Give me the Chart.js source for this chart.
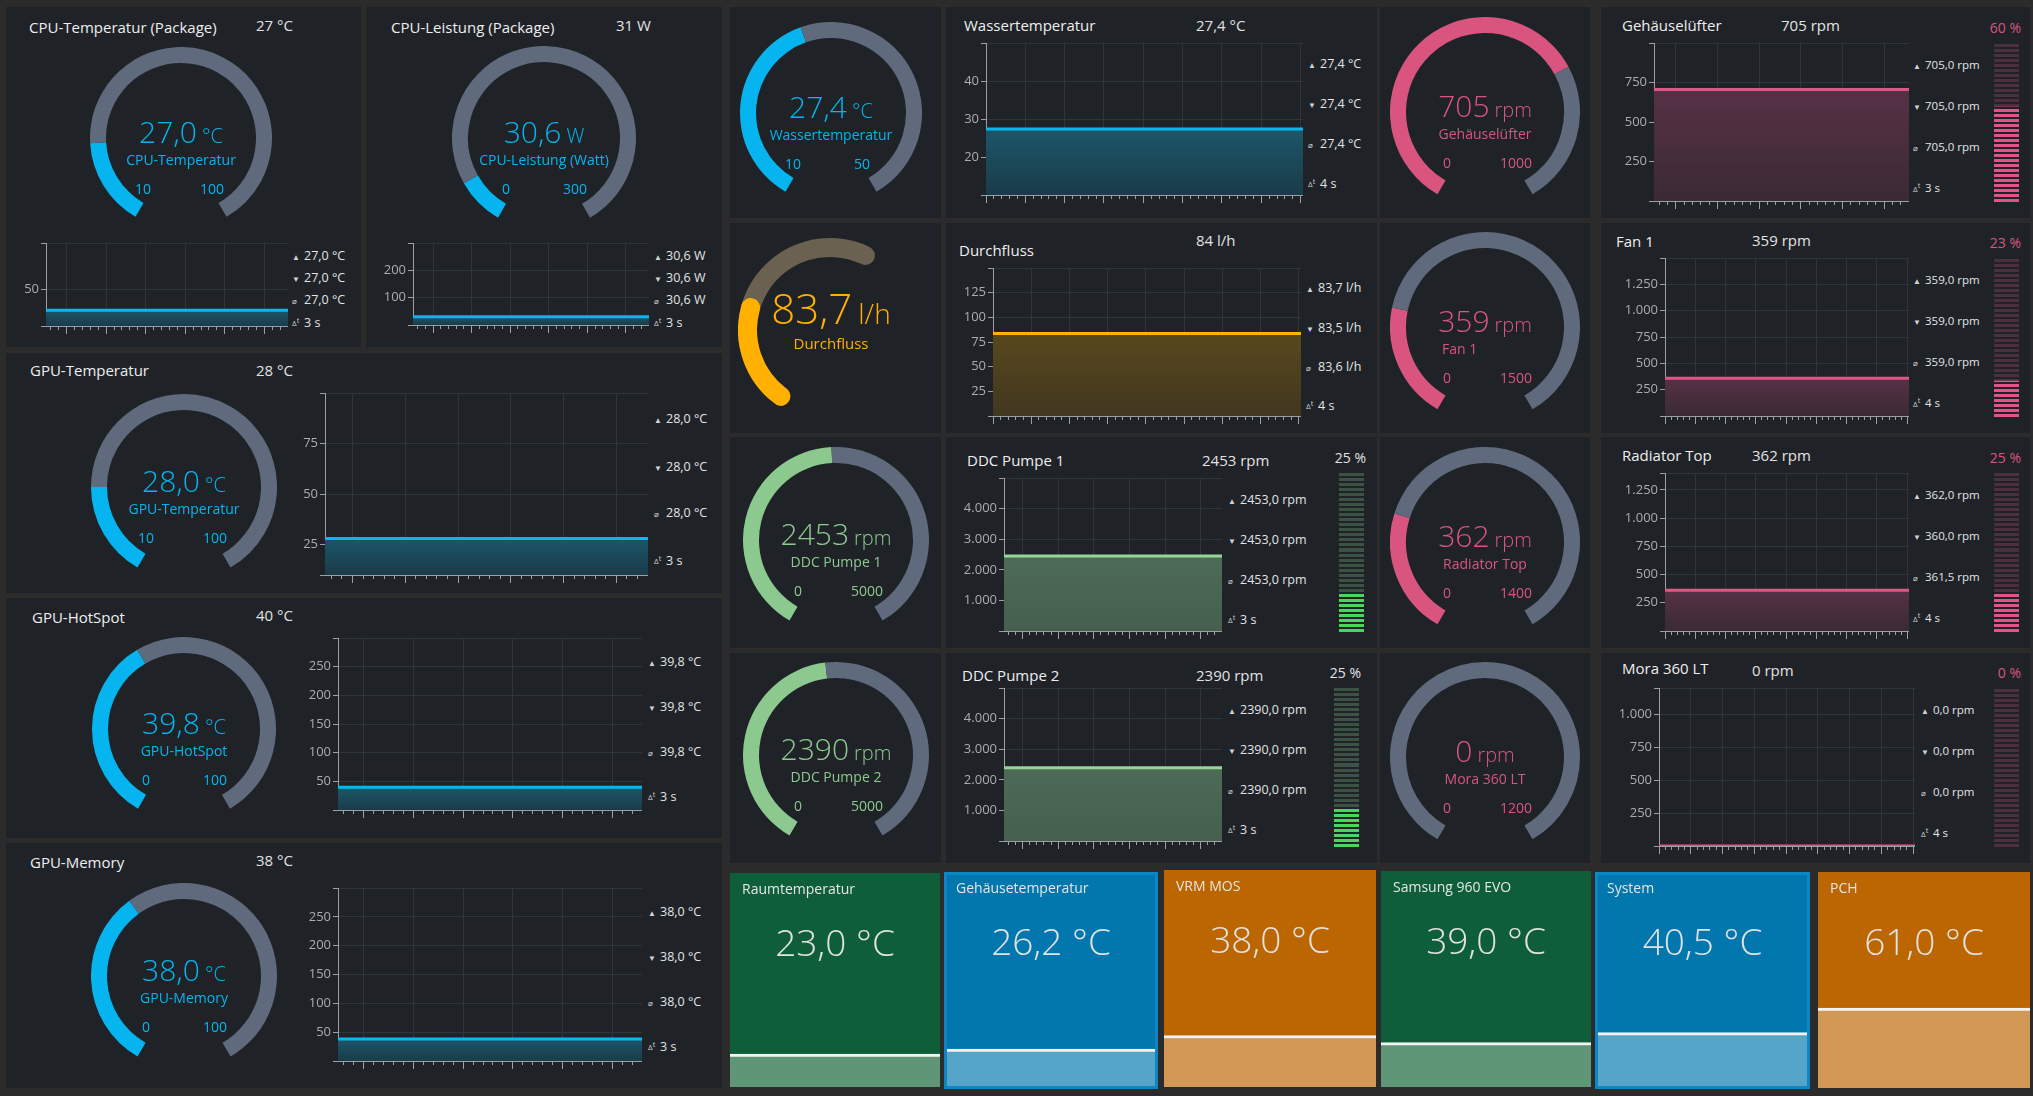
<!DOCTYPE html>
<html lang="de">
<head>
<meta charset="utf-8">
<title>Sensor-Dashboard</title>
<script src="https://cdn.jsdelivr.net/npm/chart.js@4.4.1/dist/chart.umd.min.js"></script>
<style>
  html, body { margin: 0; padding: 0; }
  body {
    background: #2b2b2b; width: 2033px; height: 1096px; position: relative; overflow: hidden;
    font-family: 'Segoe UI', 'Open Sans', sans-serif; color: #e4e4e4;
  }
  .p { position: absolute; background: #1f2328; }
  .t { position: absolute; white-space: nowrap; line-height: 1; }
  canvas { position: absolute; }
</style>
</head>
<body>
<script>
// Sensoren in fester Reihenfolge
const titles = ['CPU-Temperatur (Package)', 'CPU-Leistung (Package)', 'GPU-Temperatur', 'GPU-HotSpot', 'GPU-Memory',
  'Wassertemperatur', 'Durchfluss', 'DDC Pumpe 1', 'DDC Pumpe 2', 'Gehäuselüfter', 'Fan 1', 'Radiator Top', 'Mora 360 LT'];
const headerValues = ['27 °C', '31 W', '28 °C', '40 °C', '38 °C', '27,4 °C', '84 l/h', '2453 rpm', '2390 rpm',
  '705 rpm', '359 rpm', '362 rpm', '0 rpm'];
const gaugeLabels = ['CPU-Temperatur', 'CPU-Leistung (Watt)', 'GPU-Temperatur', 'GPU-HotSpot', 'GPU-Memory',
  'Wassertemperatur', 'Durchfluss', 'DDC Pumpe 1', 'DDC Pumpe 2', 'Gehäuselüfter', 'Fan 1', 'Radiator Top', 'Mora 360 LT'];
const units = ['°C', 'W', '°C', '°C', '°C', '°C', 'l/h', 'rpm', 'rpm', 'rpm', 'rpm', 'rpm', 'rpm'];
const gaugeValues = [27.0, 30.6, 28.0, 39.8, 38.0, 27.4, 83.7, 2453, 2390, 705, 359, 362, 0];
const gaugeDecimals = [1, 1, 1, 1, 1, 1, 1, 0, 0, 0, 0, 0, 0];
const gaugeMin = [10, 0, 10, 0, 0, 10, 0, 0, 0, 0, 0, 0, 0];
const gaugeMax = [100, 300, 100, 100, 100, 50, 185, 5000, 5000, 1000, 1500, 1400, 1200];

// Verlaufsdiagramme (Zeitachse in Sekunden)
const timesA = [-2.6, 2.5, 7.5, 12.5, 17.5, 22.5, 28];        // Δt 3 s
const timesB = [-5, 0, 5, 10, 15, 20, 25, 30, 35.3];          // Δt 4 s
const histCpuTemp = [27.0, 27.0, 27.0, 27.0, 27.0, 27.0, 27.0];
const histCpuPower = [30.6, 30.6, 30.6, 30.6, 30.6, 30.6, 30.6];
const histGpuTemp = [28.0, 28.0, 28.0, 28.0, 28.0, 28.0, 28.0];
const histGpuHot = [39.8, 39.8, 39.8, 39.8, 39.8, 39.8, 39.8];
const histGpuMem = [38.0, 38.0, 38.0, 38.0, 38.0, 38.0, 38.0];
const histWater = [27.4, 27.4, 27.4, 27.4, 27.4, 27.4, 27.4, 27.4, 27.4];
const histFlow = [83.5, 83.5, 83.7, 83.7, 83.7, 83.7, 83.7, 83.7, 83.7];
const histPump1 = [2453, 2453, 2453, 2453, 2453, 2453, 2453];
const histPump2 = [2390, 2390, 2390, 2390, 2390, 2390, 2390];
const histCaseFan = [705, 705, 705, 705, 705, 705, 705];
const histFan1 = [359, 359, 359, 359, 359, 359, 359, 359, 359];
const histRadTop = [360, 362, 362, 362, 362, 362, 362, 362, 362];
const histMora = [0, 0, 0, 0, 0, 0, 0, 0, 0];

const chartMin = [10, 0, 10, 0, 0, 10, 0, 0, 0, 0, 0, 0, 0];
const chartMax = [100, 300, 100, 300, 300, 50, 150, 5000, 5000, 1000, 1500, 1400, 1200];
const chartStep = [50, 100, 25, 50, 50, 10, 25, 1000, 1000, 250, 250, 250, 250];

const statMax = [27.0, 30.6, 28.0, 39.8, 38.0, 27.4, 83.7, 2453, 2390, 705, 359, 362, 0];
const statMin = [27.0, 30.6, 28.0, 39.8, 38.0, 27.4, 83.5, 2453, 2390, 705, 359, 360, 0];
const statAvg = [27.0, 30.6, 28.0, 39.8, 38.0, 27.4, 83.6, 2453, 2390, 705, 359, 361.5, 0];
const statDt = [3, 3, 3, 3, 3, 4, 4, 3, 3, 3, 4, 4, 4];

// Pumpen/Lüfter: Ansteuerung in %
const levelSensors = [7, 8, 9, 10, 11, 12];
const levelPct = [25, 25, 60, 23, 25, 0];

// Kacheln unten
const tileNames = ['Raumtemperatur', 'Gehäusetemperatur', 'VRM MOS', 'Samsung 960 EVO', 'System', 'PCH'];
const tileValues = [23.0, 26.2, 38.0, 39.0, 40.5, 61.0];
const tileMax = [150, 150, 160, 190, 160, 165];

const hist = [histCpuTemp, histCpuPower, histGpuTemp, histGpuHot, histGpuMem, histWater, histFlow,
  histPump1, histPump2, histCaseFan, histFan1, histRadTop, histMora];

// ---------- Aussehen ----------
const PANEL = '#1f2328', GRID = '#2f353c', AXIS = '#9ba0a5', TICK = '#a9adb1';
const themes = {
  cyan:  { main: '#06b5ef', track: '#5f6b7c', line: '#0db5ef', fillTop: '#1c5669', fillBot: '#1a3b49' },
  amber: { main: '#ffb000', track: '#6a6150', line: '#ffb300', fillTop: '#58481d', fillBot: '#41371f' },
  green: { main: '#8cc98e', track: '#5f6b7c', line: '#96d598', fillTop: '#4d6b56', fillBot: '#465f4e', on: '#48d65d', off: '#3b5244' },
  pink:  { main: '#d9557f', track: '#5f6b7c', line: '#de5785', fillTop: '#573146', fillBot: '#3a2a34', on: '#e4528a', off: '#4c2f3e' }
};
const tileThemes = [
  { bg: '#0f5e3a', band: '#5f9678' }, { bg: '#0177ae', band: '#55a5c9', frame: '#0c86c4' },
  { bg: '#bb6600', band: '#d29855' }, { bg: '#0f5e3a', band: '#5f9678' },
  { bg: '#0177ae', band: '#55a5c9', frame: '#0c86c4' }, { bg: '#bb6600', band: '#d29855' }
];
const tileRects = [[730, 873, 210, 214], [944, 872, 214, 217], [1164, 870, 212, 217],
  [1381, 871, 210, 216], [1595, 872, 215, 217], [1818, 872, 212, 216]];

// Lage der einzelnen Bausteine
const L = [
  { panels: [[6, 7, 355, 340]], cx: 181, cy: 138, r: 91, plot: [46, 243, 242, 83], sx: 292, sy: [256, 278, 300, 323], tx: 29, ty: 27, vx: 256, vy: 25, theme: 'cyan' },
  { panels: [[366, 7, 356, 340]], cx: 544, cy: 138, r: 92, plot: [413, 243, 236, 82], sx: 654, sy: [256, 278, 300, 323], tx: 391, ty: 27, vx: 616, vy: 25, theme: 'cyan' },
  { panels: [[6, 353, 716, 240]], cx: 184, cy: 487, r: 93, plot: [325, 393, 323, 182], sx: 654, sy: [419, 467, 513, 561], tx: 30, ty: 370, vx: 256, vy: 370, theme: 'cyan' },
  { panels: [[6, 598, 716, 240]], cx: 184, cy: 729, r: 92, plot: [338, 638, 304, 172], sx: 648, sy: [662, 707, 752, 797], tx: 32, ty: 617, vx: 256, vy: 615, theme: 'cyan' },
  { panels: [[6, 843, 716, 245]], cx: 184, cy: 976, r: 93, plot: [338, 888, 304, 173], sx: 648, sy: [912, 957, 1002, 1047], tx: 30, ty: 862, vx: 256, vy: 860, theme: 'cyan' },
  { panels: [[730, 7, 211, 211], [946, 7, 431, 211]], cx: 831, cy: 113, r: 91, plot: [986, 43, 317, 152], sx: 1308, sy: [64, 104, 144, 184], tx: 964, ty: 25, vx: 1196, vy: 25, theme: 'cyan' },
  { panels: [[730, 223, 211, 210], [946, 223, 431, 210]], cx: 830, cy: 330, r: 92, thick: 19, round: true, sweep: 182, rot: -150, plot: [993, 268, 308, 148], sx: 1306, sy: [288, 328, 367, 406], tx: 959, ty: 250, vx: 1196, vy: 240, theme: 'amber' },
  { panels: [[730, 437, 211, 211], [946, 437, 431, 211]], cx: 836, cy: 540, r: 93, plot: [1004, 478, 218, 153], sx: 1228, sy: [500, 540, 580, 620], tx: 967, ty: 460, vx: 1202, vy: 460, meter: [1339, 472, 25, 161], pctY: 458, theme: 'green' },
  { panels: [[730, 653, 211, 210], [946, 653, 431, 210]], cx: 836, cy: 755, r: 93, plot: [1004, 688, 218, 153], sx: 1228, sy: [710, 750, 790, 830], tx: 962, ty: 675, vx: 1196, vy: 675, meter: [1334, 687, 25, 161], pctY: 673, theme: 'green' },
  { panels: [[1380, 7, 210, 211], [1601, 7, 429, 211]], cx: 1485, cy: 112, r: 95, plot: [1654, 43, 255, 158], sx: 1913, sy: [65, 106, 147, 188], tx: 1622, ty: 25, vx: 1781, vy: 25, meter: [1994, 43, 25, 160], pctY: 28, theme: 'pink' },
  { panels: [[1380, 223, 210, 210], [1601, 223, 429, 210]], cx: 1485, cy: 327, r: 95, plot: [1665, 258, 244, 158], sx: 1913, sy: [280, 321, 362, 403], tx: 1616, ty: 241, vx: 1752, vy: 240, meter: [1994, 258, 25, 160], pctY: 243, theme: 'pink', labelLeft: 1442 },
  { panels: [[1380, 437, 210, 211], [1601, 437, 429, 211]], cx: 1485, cy: 542, r: 95, plot: [1665, 473, 244, 158], sx: 1913, sy: [495, 536, 577, 618], tx: 1622, ty: 455, vx: 1752, vy: 455, meter: [1994, 472, 25, 161], pctY: 458, theme: 'pink' },
  { panels: [[1380, 653, 210, 210], [1601, 653, 429, 210]], cx: 1485, cy: 757, r: 95, plot: [1659, 688, 256, 158], sx: 1921, sy: [710, 751, 792, 833], tx: 1622, ty: 668, vx: 1752, vy: 670, meter: [1994, 688, 25, 160], pctY: 673, theme: 'pink' }
];

// ---------- Hilfsfunktionen ----------
const stage = document.body;

function fmtNum(v, dec, group) {
  let [a, b] = v.toFixed(dec).split('.');
  if (group) a = a.replace(/\B(?=(\d{3})+(?!\d))/g, '.');
  return b ? a + ',' + b : a;
}

function el(css, html, cls) {
  const e = document.createElement('div');
  e.className = cls || 't';
  Object.assign(e.style, css);
  if (html != null) e.innerHTML = html;
  stage.appendChild(e);
  return e;
}

function rect(r, bg) {
  return el({ left: r[0] + 'px', top: r[1] + 'px', width: r[2] + 'px', height: r[3] + 'px', background: bg }, null, 'p');
}

function text(html, x, y, size, color, align, weight) {
  const tx = align === 'center' ? '-50%' : align === 'right' ? '-100%' : '0';
  return el({ left: x + 'px', top: y + 'px', fontSize: size + 'px', color: color, fontWeight: weight || 400,
    transform: 'translate(' + tx + ',-50%)' }, html);
}

function canvasAt(x, y, w, h) {
  const c = document.createElement('canvas');
  c.width = w; c.height = h;
  Object.assign(c.style, { left: x + 'px', top: y + 'px', width: w + 'px', height: h + 'px' });
  stage.appendChild(c);
  return c;
}

// Achsenwerte: Grenzen plus Vielfache der Schrittweite
function axisTicks(min, max, step) {
  const out = [min];
  for (let v = Math.floor(min / step) * step + step; v < max - 1e-9; v += step) out.push(v);
  out.push(max);
  return out;
}

Chart.defaults.font.family = "'Segoe UI', 'Open Sans', sans-serif";
Chart.defaults.animation = false;
Chart.defaults.plugins.legend.display = false;
Chart.defaults.plugins.tooltip.enabled = false;

function ringOptions(rot, cutout) {
  return { responsive: false, events: [], rotation: rot, circumference: 360, cutout: cutout, layout: { padding: 0 } };
}

// ---------- Rundinstrumente ----------
function drawGauge(i) {
  const g = L[i], th = themes[g.theme];
  const sweep = g.sweep || 300;
  const rot = g.rot !== undefined ? g.rot : -sweep / 2;
  const thick = g.thick || 16;
  const cutout = (100 - thick / g.r * 100) + '%';
  const frac = Math.min(1, Math.max(0, (gaugeValues[i] - gaugeMin[i]) / (gaugeMax[i] - gaugeMin[i])));
  const d = g.r * 2;

  if (g.round) {
    // Durchfluss: Spur und Wert als zwei Lagen mit runden Enden
    new Chart(canvasAt(g.cx - g.r, g.cy - g.r, d, d), {
      type: 'doughnut',
      data: { datasets: [{ data: [sweep, 360 - sweep], backgroundColor: [th.track, 'transparent'],
        borderWidth: 0, borderRadius: thick / 2, hoverOffset: 0 }] },
      options: ringOptions(rot, cutout)
    });
    new Chart(canvasAt(g.cx - g.r, g.cy - g.r, d, d), {
      type: 'doughnut',
      data: { datasets: [{ data: [frac * sweep, 360 - frac * sweep], backgroundColor: [th.main, 'transparent'],
        borderWidth: 0, borderRadius: thick / 2, hoverOffset: 0 }] },
      options: ringOptions(rot, cutout)
    });
    text(fmtNum(gaugeValues[i], gaugeDecimals[i]) + '<span style="font-size:28px;margin-left:6px">' + units[i] + '</span>',
      g.cx + 1, g.cy - 22, 42, th.main, 'center', 300);
    text(gaugeLabels[i], g.cx + 1, g.cy + 13, 15, th.main, 'center');
    return;
  }

  new Chart(canvasAt(g.cx - g.r, g.cy - g.r, d, d), {
    type: 'doughnut',
    data: { datasets: [{ data: [frac * sweep, (1 - frac) * sweep, 360 - sweep],
      backgroundColor: [th.main, th.track, 'transparent'], borderWidth: 0, hoverOffset: 0 }] },
    options: ringOptions(rot, cutout)
  });
  text(fmtNum(gaugeValues[i], gaugeDecimals[i]) + '<span style="font-size:20px;margin-left:5px">' + units[i] + '</span>',
    g.cx, g.cy - 6, 30, th.main, 'center', 300);
  if (g.labelLeft) text(gaugeLabels[i], g.labelLeft, g.cy + 22, 14, th.main, 'left');
  else text(gaugeLabels[i], g.cx, g.cy + 22, 14, th.main, 'center');
  text(String(gaugeMin[i]), g.cx - 38, g.cy + 51, 14, th.main, 'center');
  text(String(gaugeMax[i]), g.cx + 31, g.cy + 51, 14, th.main, 'center');
}

// ---------- Verlauf ----------
function areaFill(c, th, i) {
  const chart = c.chart, a = chart.chartArea;
  if (!a) return th.fillBot;
  const top = chart.scales.y.getPixelForValue(Math.max.apply(null, hist[i]));
  if (a.bottom - top < 2) return th.fillBot;
  const gr = chart.ctx.createLinearGradient(0, top, 0, a.bottom);
  gr.addColorStop(0, th.fillTop);
  gr.addColorStop(1, th.fillBot);
  return gr;
}

function drawHistory(i) {
  const g = L[i], th = themes[g.theme];
  const px = g.plot[0], py = g.plot[1], pw = g.plot[2], ph = g.plot[3];
  const AX = 44, TK = 4;
  const quick = statDt[i] === 3;
  const times = quick ? timesA : timesB;
  const xr = quick ? [-2.6, 28] : [-5, 35.3];
  const yt = axisTicks(chartMin[i], chartMax[i], chartStep[i]);

  new Chart(canvasAt(px - AX, py, pw + AX, ph + 2 * TK), {
    type: 'line',
    data: { datasets: [{
      data: times.map((t, k) => ({ x: t, y: hist[i][k] })),
      borderColor: th.line, borderWidth: 3, pointRadius: 0, tension: 0,
      fill: 'start', backgroundColor: c => areaFill(c, th, i)
    }] },
    options: {
      responsive: false, events: [], layout: { padding: 0 },
      scales: {
        // Nebenstriche jede Sekunde, Gitterlinie alle 5
        x: {
          type: 'linear', min: xr[0], max: xr[1], weight: 0,
          ticks: { stepSize: 1, display: false, includeBounds: false },
          grid: { color: c => (c.tick && c.tick.value % 5 === 0) ? GRID : 'transparent', tickColor: AXIS, tickLength: TK },
          border: { display: true, color: AXIS },
          afterFit: s => { s.height = TK; s.paddingLeft = 0; s.paddingRight = 0; }
        },
        // Verlängerung der Hauptstriche
        x2: {
          type: 'linear', position: 'bottom', min: xr[0], max: xr[1], weight: 1,
          ticks: { stepSize: 5, display: false, includeBounds: false },
          grid: { drawOnChartArea: false, tickColor: AXIS, tickLength: TK },
          border: { display: false },
          afterFit: s => { s.height = TK; s.paddingLeft = 0; s.paddingRight = 0; }
        },
        y: {
          min: chartMin[i], max: chartMax[i],
          afterBuildTicks: s => { s.ticks = yt.map(v => ({ value: v })); },
          ticks: { color: TICK, font: { size: 13 }, padding: 2,
            callback: v => (v === chartMin[i] || v === chartMax[i]) ? '' : fmtNum(v, 0, true) },
          grid: { color: GRID, tickColor: AXIS, tickLength: 5 },
          border: { display: true, color: AXIS },
          afterFit: s => { s.width = AX; s.paddingTop = 0; s.paddingBottom = 0; }
        }
      }
    }
  });

  const u = units[i];
  const small = g.theme === 'pink' ? 11.5 : 12.5;
  const rows = [
    ['&#9650;', fmtNum(statMax[i], 1) + ' ' + u],
    ['&#9660;', fmtNum(statMin[i], 1) + ' ' + u],
    ['&#8960;', fmtNum(statAvg[i], 1) + ' ' + u],
    ['&Delta;<sup style="font-size:7px">t</sup>', statDt[i] + ' s']
  ];
  rows.forEach((r, k) => {
    text('<span style="font-size:8px;color:#cfd2d5;margin-right:4px;display:inline-block;width:8px">' + r[0] + '</span>' + r[1],
      g.sx, g.sy[k], small, '#e2e4e6', 'left');
  });

  text(titles[i], g.tx, g.ty, 15, '#eeeeee', 'left');
  text(headerValues[i], g.vx, g.vy, 15, '#e2e2e2', 'left');
}

// ---------- Balkenanzeige in % ----------
function drawLevel(k) {
  const i = levelSensors[k], g = L[i], th = themes[g.theme];
  const m = g.meter;
  text(levelPct[k] + ' %', m[0] + m[2] + 2, g.pctY, 14, g.theme === 'pink' ? th.main : '#e2e2e2', 'right');
  new Chart(canvasAt(m[0], m[1], m[2], m[3]), {
    type: 'bar',
    data: { labels: [''], datasets: [
      { data: [levelPct[k]], backgroundColor: th.on, borderWidth: 0, barPercentage: 1, categoryPercentage: 1 },
      { data: [100 - levelPct[k]], backgroundColor: th.off, borderWidth: 0, barPercentage: 1, categoryPercentage: 1 }
    ] },
    options: {
      responsive: false, events: [], layout: { padding: 0 },
      scales: {
        x: { stacked: true, display: false },
        y: { stacked: true, min: 0, max: 100,
          ticks: { display: false, stepSize: 100 / 32 },
          grid: { color: PANEL, lineWidth: 2, drawTicks: false, z: 1 },
          border: { display: false },
          afterFit: s => { s.width = 0; s.paddingTop = 0; s.paddingBottom = 0; } }
      }
    }
  });
}

// ---------- Kacheln ----------
function drawTile(k) {
  const r = tileRects[k], th = tileThemes[k];
  rect(r, th.frame || th.bg);
  const ins = th.frame ? 3 : 0;
  if (ins) rect([r[0] + ins, r[1] + ins, r[2] - 2 * ins, r[3] - 2 * ins], th.bg);
  new Chart(canvasAt(r[0] + ins, r[1] + ins, r[2] - 2 * ins, r[3] - 2 * ins), {
    type: 'bar',
    data: { labels: [''], datasets: [{ data: [tileValues[k]], backgroundColor: th.band, borderColor: '#f3f3f3',
      borderWidth: { top: 3, left: 0, right: 0, bottom: 0 }, borderSkipped: false,
      barPercentage: 1, categoryPercentage: 1 }] },
    options: {
      responsive: false, events: [], layout: { padding: 0 },
      scales: { x: { display: false }, y: { display: false, min: 0, max: tileMax[k] } }
    }
  });
  text(tileNames[k], r[0] + 12, r[1] + 16, 14, '#e6e6e6', 'left');
  text(fmtNum(tileValues[k], 1) + ' °C', r[0] + r[2] / 2, r[1] + 68, 37, '#e2e2e2', 'center', 300);
}

// ---------- Aufbau ----------
L.forEach(g => g.panels.forEach(p => rect(p, PANEL)));
L.forEach((g, i) => { drawGauge(i); drawHistory(i); });
levelSensors.forEach((_, k) => drawLevel(k));
tileNames.forEach((_, k) => drawTile(k));
</script>
</body>
</html>
